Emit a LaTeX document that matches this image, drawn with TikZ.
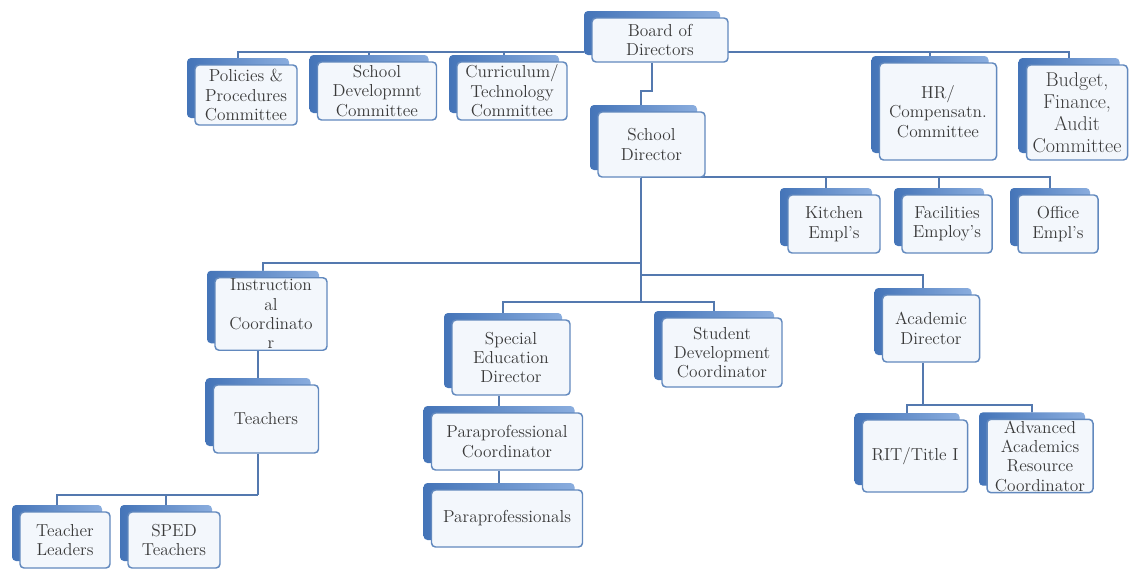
\documentclass[tikz,border=0pt]{standalone}
\usetikzlibrary{shadows, backgrounds}

\definecolor{linkblue}{RGB}{84,121,175}
\definecolor{edgeblue}{RGB}{98,137,190}
\definecolor{backdark}{RGB}{68,116,184}
\definecolor{backlight}{RGB}{138,173,222}
\definecolor{paleface}{RGB}{243,247,252}
\definecolor{inkgray}{RGB}{58,58,58}

\tikzset{
  orgbox/.style={draw=edgeblue, line width=1.1pt, rounded corners=3pt, fill=paleface,
    align=center, text=inkgray, inner sep=1pt,
    font=\fontsize{13}{14.5}\selectfont,
    copy shadow={shadow xshift=-6pt, shadow yshift=5.25pt, draw=none,
      left color=backdark, right color=backlight}},
  sz/.style 2 args={minimum width=#1*0.75pt, minimum height=#2*0.75pt},
  link/.style={draw=linkblue, line width=1.4pt}
}

\begin{document}
\begin{tikzpicture}[x=0.75pt, y=-0.75pt]
  \useasboundingbox (0,0) rectangle (1130,568);

  % board and committees
  \node[orgbox, sz={136}{44}] (board) at (660,40) {Board of\\Directors};
  \node[orgbox, sz={102}{60}] (policies) at (246,95) {Policies \&\\Procedures\\Committee};
  \node[orgbox, sz={119}{58}] (develop) at (377,91) {School\\Developmnt\\Committee};
  \node[orgbox, sz={110}{58}] (curric) at (512,91) {Curriculum/\\Technology\\Committee};
  \node[orgbox, sz={117}{97}] (hrcomp) at (938,111.5) {HR/\\Compensatn.\\Committee};
  \node[orgbox, sz={101}{95}, font=\fontsize{15}{16.5}\selectfont] (budget) at (1077,112.5) {Budget,\\Finance,\\Audit\\Committee};

  % director and staff
  \node[orgbox, sz={107}{65}] (director) at (651.5,144.5) {School\\Director};
  \node[orgbox, sz={92}{58}] (kitchen) at (834,224) {Kitchen\\Empl's};
  \node[orgbox, sz={90}{58}] (facility) at (947,224) {Facilities\\Employ's};
  \node[orgbox, sz={80}{58}] (office) at (1058,224) {Office\\Empl's};

  % coordinators
  \node[orgbox, sz={112}{68}] (instruct) at (271,314) {Instruction\\al\\Coordinato\\r};
  \node[orgbox, sz={118}{75}] (speced) at (511,357.5) {Special\\Education\\Director};
  \node[orgbox, sz={120}{69}] (student) at (722,352.5) {Student\\Development\\Coordinator};
  \node[orgbox, sz={97}{67}] (academic) at (931,328.5) {Academic\\Director};

  % lower levels
  \node[orgbox, sz={105}{68}] (teachers) at (266,419) {Teachers};
  \node[orgbox, sz={90}{56}] (leaders) at (65,540) {Teacher\\Leaders};
  \node[orgbox, sz={92}{56}] (spedteach) at (174,540) {SPED\\Teachers};
  \node[orgbox, sz={151}{57}] (paracoord) at (507,441.5) {Paraprofessional\\Coordinator};
  \node[orgbox, sz={151}{57}] (paras) at (507,518.5) {Paraprofessionals};
  \node[orgbox, sz={105}{72}] (title) at (915,456) {RIT/Title I};
  \node[orgbox, sz={106}{72}] (advanced) at (1040,456) {Advanced\\Academics\\Resource\\Coordinator};

  \coordinate (cbus) at (652,52);
  \coordinate (ebus) at (641,177);
  \coordinate (lbus) at (641,263);
  \coordinate (rbus) at (641,275);
  \coordinate (mbus) at (641,302);
  \coordinate (tbus) at (258,495);
  \coordinate (abus) at (923,405);

  \begin{scope}[on background layer]
    \foreach \n in {policies,develop,curric,hrcomp,budget}
      \draw[link] ([xshift=-6pt]\n.north) |- (cbus);
    \draw[link] ([xshift=-6pt]board.south) -- ++(0,28) -| (director.north -| mbus);
    \draw[link] (director.south -| mbus) -- (mbus);
    \foreach \n in {kitchen,facility,office}
      \draw[link] ([xshift=-6pt]\n.north) |- (ebus);
    \draw[link] ([xshift=-6pt]instruct.north) |- (lbus);
    \draw[link] ([xshift=-6pt]academic.north) |- (rbus);
    \foreach \n in {speced,student}
      \draw[link] ([xshift=-6pt]\n.north) |- (mbus);
    \draw[link] ([xshift=-6pt]teachers.north) -- ([xshift=-6pt]teachers.north |- instruct.south);
    \draw[link] ([xshift=-6pt]teachers.south) -- (tbus);
    \foreach \n in {leaders,spedteach}
      \draw[link] ([xshift=-6pt]\n.north) |- (tbus);
    \draw[link] ([xshift=-6pt]paracoord.north) -- ([xshift=-6pt]paracoord.north |- speced.south);
    \draw[link] ([xshift=-6pt]paras.north) -- ([xshift=-6pt]paras.north |- paracoord.south);
    \draw[link] ([xshift=-6pt]academic.south) -- (abus);
    \foreach \n in {title,advanced}
      \draw[link] ([xshift=-6pt]\n.north) |- (abus);
  \end{scope}
\end{tikzpicture}
\end{document}
